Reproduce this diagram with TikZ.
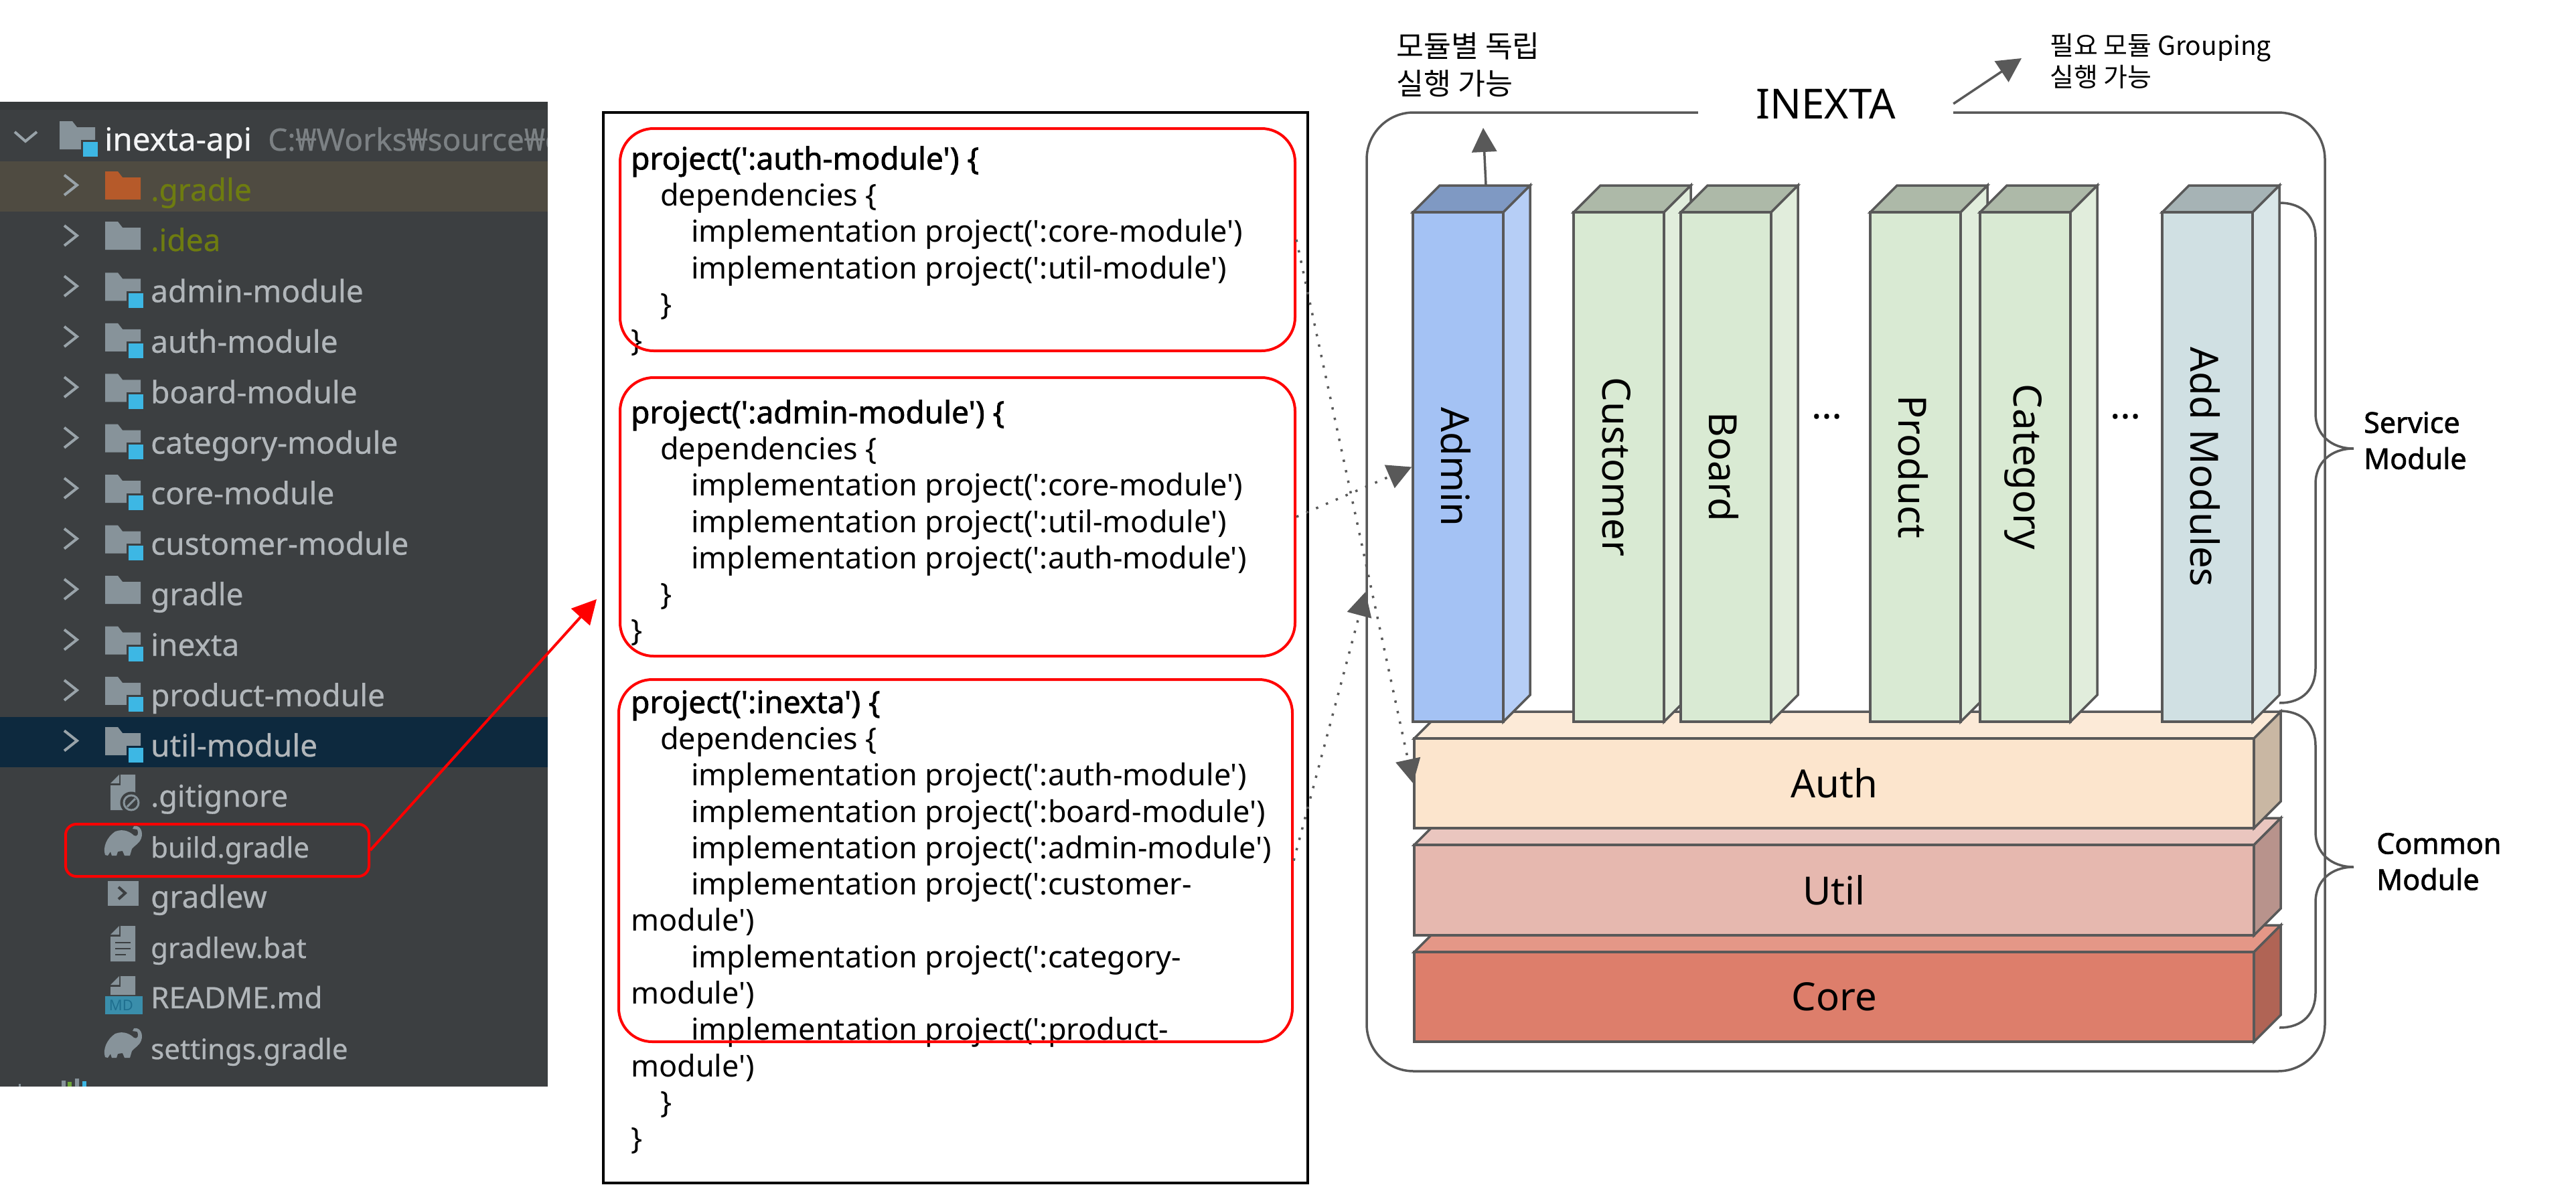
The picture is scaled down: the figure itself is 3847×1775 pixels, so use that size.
\documentclass[tikz,border=0pt]{standalone}
\usepackage{fontspec}
\setmainfont{Noto Sans}
\newfontfamily\codefont{Noto Sans}
\newfontfamily\codebold{Noto Sans}[FakeBold=1.6]
\newfontfamily\treefont{Noto Sans}[FakeBold=0.5]
\newfontfamily\sidefont{Noto Sans}[FakeBold=1.6]
\newfontfamily\krfont{Noto Sans CJK KR}
\usetikzlibrary{arrows.meta}

\definecolor{panelbg}{HTML}{3C3F41}
\definecolor{selbg}{HTML}{0D293E}
\definecolor{warnbg}{HTML}{4F4B41}
\definecolor{treetxt}{HTML}{B1B6BA}
\definecolor{olivetxt}{HTML}{6E7C10}
\definecolor{icongray}{HTML}{87939A}
\definecolor{iconblue}{HTML}{3DB7E4}
\definecolor{iconorange}{HTML}{B65A2A}
\definecolor{mdband}{HTML}{3A8EAB}
\definecolor{mdtext}{HTML}{1F6F8F}
\definecolor{runout}{HTML}{6FA83A}
\definecolor{linegray}{HTML}{595959}
\definecolor{admin}{HTML}{A4C2F4}
\definecolor{admintop}{HTML}{7F99C3}
\definecolor{adminside}{HTML}{B6CEF6}
\definecolor{green}{HTML}{D9EAD3}
\definecolor{greentop}{HTML}{ADB9A8}
\definecolor{greenside}{HTML}{E1EDDC}
\definecolor{slate}{HTML}{D0E0E3}
\definecolor{slatetop}{HTML}{A6B3B5}
\definecolor{slateside}{HTML}{D9E6E8}
\definecolor{auth}{HTML}{FCE5CD}
\definecolor{authtop}{HTML}{FCEAD7}
\definecolor{authside}{HTML}{C9B7A3}
\definecolor{util}{HTML}{E6B8AF}
\definecolor{utiltop}{HTML}{EAC6BF}
\definecolor{utilside}{HTML}{B8938C}
\definecolor{core}{HTML}{DD7E6B}
\definecolor{coretop}{HTML}{E49787}
\definecolor{coreside}{HTML}{B06455}

\tikzset{
  treetext/.style={anchor=base west,inner sep=0pt,text=treetxt,font=\treefont\fontsize{46}{54}\selectfont},
  filetext/.style={treetext,font=\treefont\fontsize{42}{54}\selectfont},
  chevron/.style={draw=icongray!85!white,line width=4pt},
  codetext/.style={anchor=north west,inner sep=0pt,align=left,font=\codefont\fontsize{45}{54.3}\selectfont},
  redbox/.style={draw=red,line width=4pt,rounded corners=50pt,inner sep=0pt},
  cubeline/.style={draw=linegray,line width=3.5pt},
  cubeface/.style={draw=linegray,line width=3.5pt,inner sep=0pt},
  cubetext/.style={inner sep=0pt,font=\fontsize{58}{60}\selectfont},
  headtip/.style={-{Triangle[length=36pt,width=37pt,fill=#1]}},
  solidarrow/.style={draw=linegray,line width=3.5pt,headtip=linegray},
  dotarrow/.style={draw=linegray,line width=3.5pt,dash pattern=on 3.5pt off 12.5pt,headtip=linegray},
  bracket/.style={draw=linegray,line width=3.5pt},
  sidelabel/.style={anchor=west,inner sep=0pt,align=left,font=\sidefont\fontsize{43}{54}\selectfont},
  notelabel/.style={anchor=west,inner sep=0pt,align=left},
}

% bold first line of a code block
\newcommand{\codehead}[1]{{\codebold\fontsize{46}{54.3}\selectfont #1}}
% folder with a blue module square, #1 row centre, #2 colour behind it
\newcommand{\modfolder}[2]{
  \fill[icongray] (157,#1-28) -- (176,#1-28) -- (183,#1-19) -- (210,#1-19) -- (210,#1+14) -- (157,#1+14) -- cycle;
  \filldraw[draw=#2,line width=3pt,fill=iconblue] (190,#1+1) rectangle (215,#1+26);
}
% elephant icon of the gradle files
\newcommand{\gradleicon}[1]{
  \begin{scope}[shift={(0,#1)}]
    \fill[icongray] (157,12) .. controls (153,0) and (160,-15) .. (172,-23)
      .. controls (185,-28) and (195,-22) .. (200,-17)
      .. controls (205,-14) and (208,-20) .. (205,-26) -- (198,-27) -- (200,-31)
      .. controls (210,-33) and (214,-22) .. (211,-13)
      .. controls (208,-5) and (202,-3) .. (197,3)
      -- (194,13) -- (186,13) -- (183,6) -- (176,7) -- (174,13) -- (167,13) -- (165,7) -- (161,13) -- cycle;
  \end{scope}
}
% sheet with a folded corner, #1 top, #2 bottom
\newcommand{\sheeticon}[2]{
  \fill[icongray] (180,#1) -- (202,#1) -- (202,#2) -- (165,#2) -- (165,#1+16) -- (180,#1+16) -- cycle;
  \fill[icongray] (165,#1+13) -- (178,#1) -- (178,#1+13) -- cycle;
}
% front face as a node, then top and side, #6 colour family, #7 label options
\newcommand{\cuboid}[8]{
  \filldraw[cubeline,fill=#6top] (#2,#3) -- ++(40,-40) -- ++({#4-#2},0) -- ++(-40,40) -- cycle;
  \filldraw[cubeline,fill=#6side] (#4,#3) -- ++(40,-40) -- ++(0,{#5-#3}) -- ++(-40,40) -- cycle;
  \node[cubeface,fill=#6,minimum width={(#4-#2)*1pt},minimum height={(#5-#3)*1pt}] (#1) at ({(#2+#4)/2},{(#3+#5)/2}) {};
  \node[cubetext,#7] (#1text) at (#1) {#8};
}
% curly bracket, #1 top, #2 tip, #3 bottom
\newcommand{\curly}[3]{
  \draw[bracket] (3404,#1) .. controls (3440,#1) and (3458,#1+22) .. (3458,#1+52)
    -- (3458,#2-52) .. controls (3458,#2-22) and (3480,#2) .. (3515,#2)
    .. controls (3480,#2) and (3458,#2+22) .. (3458,#2+52)
    -- (3458,#3-52) .. controls (3458,#3-22) and (3440,#3) .. (3404,#3);
}

\begin{document}
\begin{tikzpicture}[x=1pt,y=-1pt]
  \useasboundingbox (0,0) rectangle (3847,1775);

  % project tree
  \begin{scope}
    \clip (0,152) rectangle (818,1623);
    \fill[panelbg] (0,152) rectangle (818,1623);
    \fill[black!10!panelbg] (0,152) rectangle (818,164);
    \fill[warnbg] (0,241) rectangle (818,316);
    \fill[selbg] (0,1071) rectangle (818,1146);

    \draw[chevron] (22,197) -- (38,211) -- (55,197);
    \begin{scope}[shift={(-68,0)}]
      \modfolder{209}{panelbg}
    \end{scope}
    \node[treetext,text=white!85!treetxt,font=\treefont\fontsize{47.5}{54}\selectfont] (rootname) at (156,225) {inexta-api};
    \node[treetext,text=treetxt!55!panelbg] (rootpath) at (400,225) {C:₩Works₩source₩c};

    % rows with a chevron
    \foreach \row in {1,...,12}{
      \pgfmathsetmacro\ypos{209+75.45*\row}
      \draw[chevron] (96,\ypos-23) -- (115,\ypos-8) -- (96,\ypos+7);
    }
    \foreach \row/\lbl in {3/admin-module,4/auth-module,5/board-module,6/category-module,7/core-module,8/customer-module,10/inexta,11/product-module}{
      \pgfmathsetmacro\ypos{209+75.45*\row}
      \modfolder{\ypos}{panelbg}
      \node[treetext] (tree\row) at (225,\ypos+16) {\lbl};
    }
    \modfolder{1114}{selbg}
    \node[treetext] (tree12) at (225,1130) {util-module};

    % plain folders
    \fill[iconorange] (157,256) -- (176,256) -- (183,265) -- (210,265) -- (210,298) -- (157,298) -- cycle;
    \node[treetext,text=olivetxt] (tree1) at (225,300) {.gradle};
    \fill[icongray] (157,331) -- (176,331) -- (183,340) -- (210,340) -- (210,373) -- (157,373) -- cycle;
    \node[treetext,text=olivetxt] (tree2) at (225,375) {.idea};
    \fill[icongray] (157,860) -- (176,860) -- (183,869) -- (210,869) -- (210,902) -- (157,902) -- cycle;
    \node[treetext] (tree9) at (225,904) {gradle};

    % plain files
    \sheeticon{1157}{1210}
    \filldraw[draw=panelbg,line width=3pt,fill=panelbg] (196,1199) circle (15);
    \draw[icongray,line width=3pt] (196,1199) circle (11) (190,1205) -- (202,1193);
    \node[treetext,font=\treefont\fontsize{45}{54}\selectfont] (tree13) at (225,1205) {.gitignore};

    \gradleicon{1265}
    \node[filetext] (tree14) at (225,1281) {build.gradle};

    \fill[icongray] (161,1316) rectangle (207,1353);
    \draw[panelbg,line width=4pt] (177,1325) -- (187,1334) -- (177,1343);
    \node[treetext] (tree15) at (225,1356) {gradlew};

    \sheeticon{1383}{1436}
    \draw[panelbg,line width=2.5pt] (172,1408) -- (195,1408) (172,1417) -- (195,1417) (172,1426) -- (188,1426);
    \node[filetext] (tree16) at (225,1431) {gradlew.bat};

    \sheeticon{1458}{1486}
    \fill[mdband] (157,1488) rectangle (213,1515);
    \node[inner sep=0pt,text=mdtext,font=\fontsize{22}{24}\selectfont] (mdtag) at (181,1502) {MD};
    \node[treetext,font=\treefont\fontsize{44}{54}\selectfont] (tree17) at (225,1506) {README.md};

    \gradleicon{1567}
    \node[filetext] (tree18) at (225,1582) {settings.gradle};

    % run tool icon cut by the panel edge
    \fill[icongray] (92,1614) rectangle (98,1623) (112,1611) rectangle (118,1623);
    \fill[runout] (101,1616) rectangle (107,1623);
    \fill[iconblue] (123,1615) rectangle (129,1623);
    \fill[icongray] (28,1619) rectangle (31,1623);
  \end{scope}

  \node[redbox,rounded corners=16pt,minimum width=453pt,minimum height=78pt] (buildbox) at (324.5,1270) {};
  \coordinate (codetip) at (891,895);
  \draw[draw=red,line width=4pt,headtip=red] (buildbox.east) -- (codetip);

  % gradle code
  \node[draw=black,line width=4.5pt,minimum width=1052pt,minimum height=1599pt,inner sep=0pt] (codepanel) at (1427,967.5) {};
  \node[codetext] (authcode) at (942,218) {\codehead{project(':auth-module') \{}\\
    \hspace*{44pt}dependencies \{\\
    \hspace*{90pt}implementation project(':core-module')\\
    \hspace*{90pt}implementation project(':util-module')\\
    \hspace*{44pt}\}\\
    \}};
  \node[codetext] (admincode) at (942,597) {\codehead{project(':admin-module') \{}\\
    \hspace*{44pt}dependencies \{\\
    \hspace*{90pt}implementation project(':core-module')\\
    \hspace*{90pt}implementation project(':util-module')\\
    \hspace*{90pt}implementation project(':auth-module')\\
    \hspace*{44pt}\}\\
    \}};
  \node[codetext] (inextacode) at (942,1031) {\codehead{project(':inexta') \{}\\
    \hspace*{44pt}dependencies \{\\
    \hspace*{90pt}implementation project(':auth-module')\\
    \hspace*{90pt}implementation project(':board-module')\\
    \hspace*{90pt}implementation project(':admin-module')\\
    \hspace*{90pt}implementation project(':customer-\\
    module')\\
    \hspace*{90pt}implementation project(':category-\\
    module')\\
    \hspace*{90pt}implementation project(':product-\\
    module')\\
    \hspace*{44pt}\}\\
    \}};
  \node[redbox,minimum width=1008pt,minimum height=332pt] (authbox) at (1430,358) {};
  \node[redbox,minimum width=1008pt,minimum height=416pt] (adminbox) at (1430,772) {};
  \node[redbox,minimum width=1006pt,minimum height=541pt] (inextabox) at (1427,1285.5) {};

  % INEXTA container
  \node[draw=linegray,line width=3.5pt,rounded corners=70pt,minimum width=1431pt,minimum height=1432pt,inner sep=0pt] (inextaouter) at (2756.5,884) {};
  \node[fill=white,inner sep=0pt,minimum width=381pt,minimum height=70pt,font=\fontsize{62}{64}\selectfont] (inextalabel) at (2726.5,155) {INEXTA};

  % common modules, lowest first
  \cuboid{coremod}{2112}{1422}{3366}{1556}{core}{}{Core}
  \cuboid{utilmod}{2112}{1262}{3366}{1397}{util}{}{Util}
  \cuboid{authmod}{2112}{1103}{3366}{1237}{auth}{}{Auth}

  % service modules
  \cuboid{adminmod}{2110}{317}{2245}{1078}{admin}{rotate=-90,yshift=-3pt}{Admin}
  \cuboid{customermod}{2350}{317}{2485}{1078}{green}{rotate=-90,yshift=-3pt}{Customer}
  \cuboid{boardmod}{2510}{317}{2645}{1078}{green}{rotate=-90,yshift=-3pt}{Board}
  \cuboid{productmod}{2793}{317}{2928}{1078}{green}{rotate=-90,yshift=-3pt}{Product}
  \cuboid{categorymod}{2957}{317}{3092}{1078}{green}{rotate=-90,yshift=-3pt}{Category}
  \cuboid{addmod}{3229}{317}{3364}{1078}{slate}{rotate=-90,yshift=-3pt}{Add Modules}
  \node[cubetext] (dotsa) at (2728,622) {…};
  \node[cubetext] (dotsb) at (3174,622) {…};

  % dependency arrows
  \draw[dotarrow] (authbox.east) -- (authmod.west);
  \draw[dotarrow] (adminbox.east) -- (adminmod.west);
  \draw[dotarrow] (inextabox.east) -- (inextaouter.west);

  % run arrows
  \coordinate (adminroof) at (2219,276);
  \coordinate (admintip) at (2215,191);
  \coordinate (grouptip) at (3019,87);
  \draw[solidarrow] (adminroof) -- (admintip);
  \draw[solidarrow] (inextalabel.east) -- (grouptip);
  \node[notelabel,font=\krfont\fontsize{44.5}{56}\selectfont] (runnote) at (2085,97) {모듈별 독립\\실행 가능};
  \node[notelabel,font=\krfont\fontsize{39}{47}\selectfont] (groupnote) at (3061,91) {필요 모듈 Grouping\\실행 가능};

  % brackets
  \curly{303}{670}{1050}
  \curly{1062}{1295}{1535}
  \node[sidelabel] (servicelabel) at (3530,658) {Service\\Module};
  \node[sidelabel] (commonlabel) at (3549,1287) {Common\\Module};
\end{tikzpicture}
\end{document}
